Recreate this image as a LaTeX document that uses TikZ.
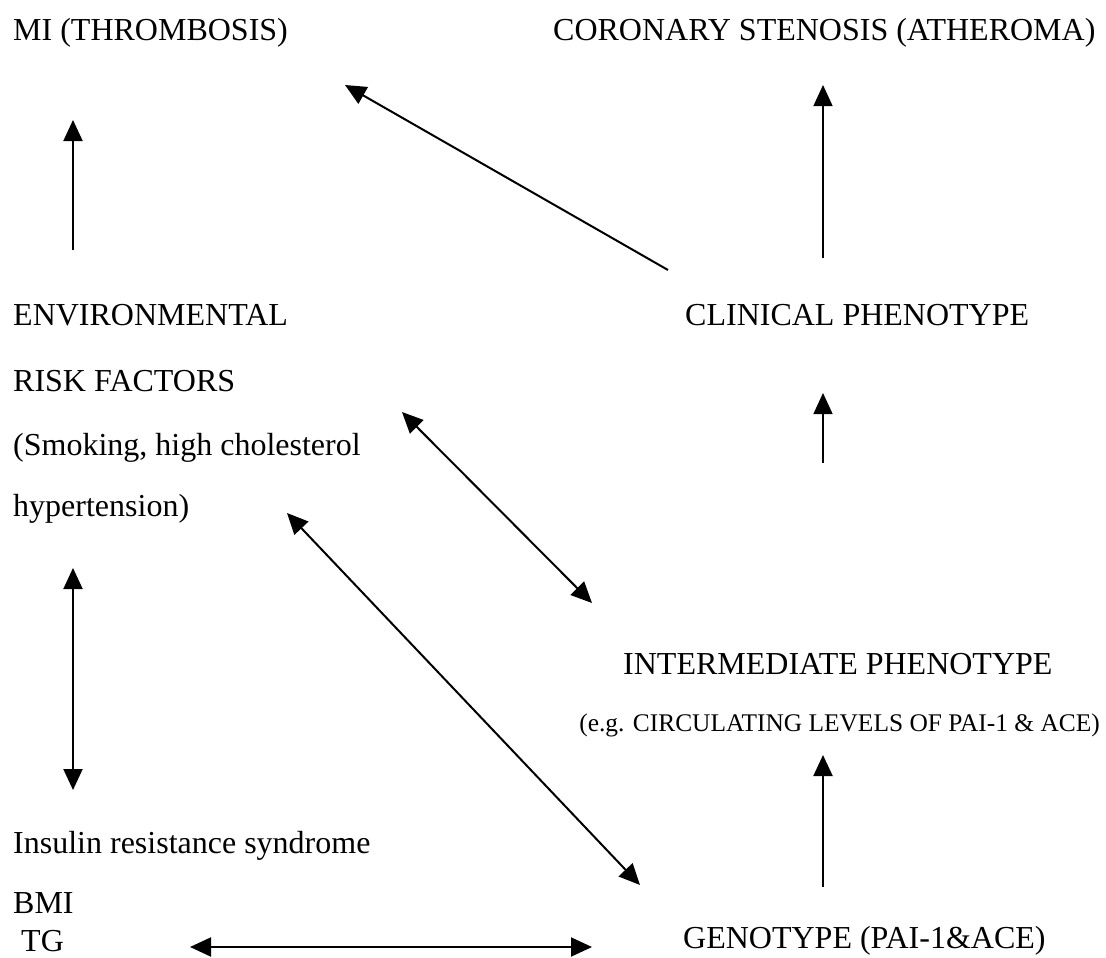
\documentclass[tikz,border=0pt]{standalone}
\usepackage{fontspec}
\setmainfont{Liberation Serif}
\usetikzlibrary{arrows.meta}
\tikzset{
  lbl/.style={inner sep=0pt, anchor=base west, font=\fontsize{32}{38}\selectfont},
  small/.style={inner sep=0pt, anchor=base east, font=\fontsize{25.4}{30}\selectfont},
  tip/.tip={Triangle[length=21pt,width=19pt]},
  conn/.style={line width=2pt},
  thin conn/.style={line width=1.3pt},
}
\begin{document}
\begin{tikzpicture}[x=1pt,y=-1pt]
\useasboundingbox (0,0) rectangle (1106,958);
% texts
\node[lbl] (mi) at (13,41) {MI (THROMBOSIS)};
\node[lbl] (cor) at (553,41) {CORONARY STENOSIS (ATHEROMA)};
\node[lbl] (env1) at (13,325) {ENVIRONMENTAL};
\node[lbl] (env2) at (13,391) {RISK FACTORS};
\node[lbl] (env3) at (13,455) {(Smoking, high cholesterol};
\node[lbl] (env4) at (13,516) {hypertension)};
\node[lbl] (clin) at (685,325) {CLINICAL PHENOTYPE};
\node[lbl] (inter) at (623,674) {INTERMEDIATE PHENOTYPE};
\node[small] (inter2) at (1100,731) {(e.g. CIRCULATING LEVELS OF PAI-1 \& ACE)};
\node[lbl] (ins1) at (13,853) {Insulin resistance syndrome};
\node[lbl] (ins2) at (13,913) {BMI};
\node[lbl] (ins3) at (21,951) {TG};
\node[lbl] (gen) at (683,948) {GENOTYPE (PAI-1\&ACE)};
% arrow end points
\coordinate (a1s) at (73,250);   \coordinate (a1e) at (73,120);
\coordinate (a2s) at (668,270);  \coordinate (a2e) at (345,85);
\coordinate (a3s) at (823,258);  \coordinate (a3e) at (823,85);
\coordinate (a4s) at (823,463);  \coordinate (a4e) at (823,393);
\coordinate (a5s) at (402,412);  \coordinate (a5e) at (592,603);
\coordinate (a6s) at (73,568);   \coordinate (a6e) at (73,790);
\coordinate (a7s) at (287,513);  \coordinate (a7e) at (640,885);
\coordinate (a8s) at (823,887);  \coordinate (a8e) at (823,755);
\coordinate (a9s) at (190,947);  \coordinate (a9e) at (592,947);
% connectors
\draw[conn,-tip] (a1s) -- (a1e);
\draw[conn,-tip] (a2s) -- (a2e);
\draw[thin conn,-tip] (a3s) -- (a3e);
\draw[thin conn,-tip] (a4s) -- (a4e);
\draw[conn,tip-tip] (a5s) -- (a5e);
\draw[conn,tip-tip] (a6s) -- (a6e);
\draw[conn,tip-tip] (a7s) -- (a7e);
\draw[conn,-tip] (a8s) -- (a8e);
\draw[conn,tip-tip] (a9s) -- (a9e);
\end{tikzpicture}
\end{document}
